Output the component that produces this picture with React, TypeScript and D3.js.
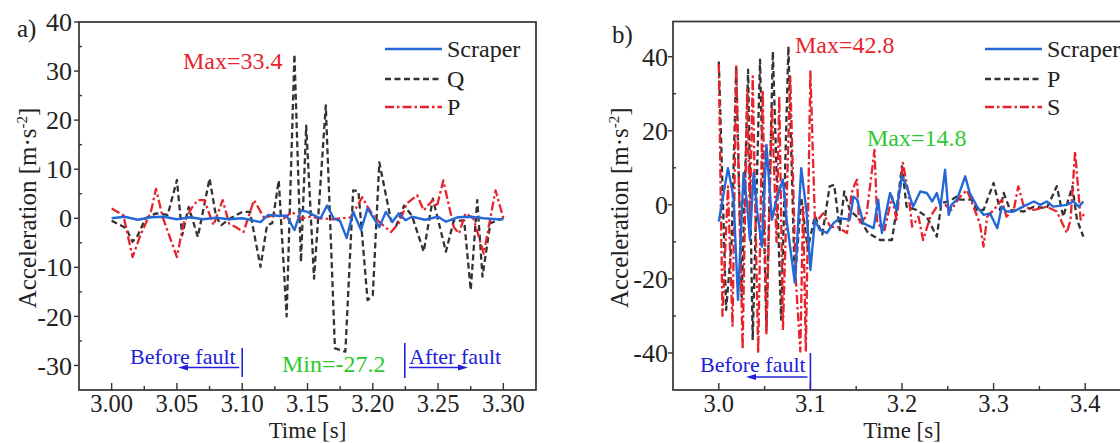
import React from 'react';
import * as d3 from 'd3';

const FONT = "'Liberation Serif', 'Times New Roman', Times, serif";
const BLUE = '#2468d8';
const BLACK = '#333333';
const RED = '#e8232b';
const GREEN = '#2ec82e';
const TEXTBLUE = '#2020dc';

// ---------- Panel a) ----------
const aScraperTime = [3.000,3.010,3.020,3.030,3.040,3.050,3.060,3.070,3.080,3.090,3.100,3.106,3.114,3.120,3.127,3.134,3.140,3.145,3.150,3.155,3.160,3.165,3.170,3.175,3.180,3.185,3.191,3.196,3.200,3.205,3.210,3.215,3.220,3.225,3.230,3.240,3.250,3.256,3.265,3.275,3.285,3.295,3.300];
const aScraper = [0,0.3,-0.3,0.2,0.3,-0.2,0.2,-0.2,0.1,-0.2,0,-0.3,-0.8,0.7,0.5,0.5,-2.4,1.6,1.3,0.6,0,2.6,0,-0.6,-4,1.3,-2.4,2,0.3,-1.8,1.3,-0.7,1,-0.4,0.3,-0.3,0.3,-0.7,0.2,0.3,0,-0.2,-0.2];

const aQTime = [3.000,3.011,3.016,3.020,3.026,3.034,3.043,3.050,3.054,3.059,3.066,3.075,3.080,3.084,3.091,3.100,3.106,3.114,3.119,3.123,3.128,3.134,3.140,3.145,3.149,3.155,3.164,3.171,3.179,3.185,3.189,3.196,3.200,3.205,3.214,3.218,3.224,3.230,3.239,3.246,3.256,3.262,3.270,3.275,3.280,3.284,3.290,3.300];
const aQ = [-0.5,-2,-4.8,-3.5,0,1,0.7,7.8,-3.5,2.3,-3.8,8.1,0.3,-1.4,0,1.3,1.3,-9.9,-1.4,-1,7.7,-20,33.4,-8.9,18.9,-12.3,23,-26.5,-27.2,5.7,5.5,-16.7,-15.7,11.4,-0.5,-1.5,2.6,0.5,-6.8,4,-6.8,-0.5,-0.5,-14.6,3.7,-11.9,-1,0];

const aPTime = [3.000,3.009,3.016,3.022,3.030,3.034,3.039,3.050,3.055,3.061,3.066,3.071,3.078,3.085,3.090,3.095,3.101,3.109,3.117,3.125,3.132,3.138,3.145,3.152,3.160,3.170,3.183,3.192,3.196,3.203,3.214,3.220,3.226,3.234,3.239,3.246,3.249,3.254,3.262,3.266,3.271,3.277,3.285,3.294,3.300];
const aP = [2,0.6,-7.9,-3.5,1.3,6,0.3,-7.9,-1.1,2,3.7,3.7,-1.4,3.7,-1.1,-1.8,-2.8,3.7,0,0.8,0,1.3,0,0.3,0,-0.2,0.2,4.3,2.3,-0.3,-2.8,-1,3,4.7,1.6,3.7,2.3,7.7,-1.8,-3.1,1,0,-7.2,5.7,0];

const aXTicks = [3.00,3.05,3.10,3.15,3.20,3.25,3.30];
const aXMinor = [3.025,3.075,3.125,3.175,3.225,3.275];
const aYTicks = [-30,-20,-10,0,10,20,30,40];
const aYMinor = [-25,-15,-5,5,15,25,35];

// ---------- Panel b) ----------
const bScraperTime = [3.000,3.010,3.016,3.021,3.027,3.031,3.034,3.038,3.042,3.047,3.052,3.058,3.063,3.070,3.074,3.083,3.090,3.096,3.100,3.105,3.110,3.118,3.125,3.132,3.143,3.147,3.151,3.158,3.169,3.174,3.178,3.187,3.194,3.200,3.205,3.212,3.220,3.227,3.233,3.238,3.242,3.247,3.251,3.254,3.260,3.269,3.274,3.282,3.289,3.296,3.304,3.309,3.314,3.322,3.329,3.336,3.344,3.351,3.358,3.365,3.380,3.387,3.393,3.398];
const bScraper = [-4.5,9.9,2.2,-25.7,8.6,0,-9.5,8.6,-2,-11.3,16.2,-4,1.4,6.8,-4,-21,9.9,-2.3,-17.6,-4,-6.7,-7.6,-5,-3.6,-4,2.2,1.4,-5,-6.3,1.4,-7.6,3.2,-1.4,7.7,5,-0.5,3.6,3.2,0.9,3.2,-0.5,9.5,-2.7,0,1.4,7.7,3.2,-0.5,-2.7,-2.3,-6.3,-0.5,-1.8,-1.8,-0.9,0,0.9,0,0.9,-0.5,0,0.9,-0.5,0.9];

const bPTime = [3.000,3.008,3.014,3.019,3.025,3.032,3.037,3.045,3.052,3.059,3.068,3.076,3.083,3.090,3.097,3.105,3.113,3.121,3.126,3.132,3.137,3.143,3.154,3.163,3.176,3.189,3.194,3.200,3.205,3.216,3.227,3.238,3.243,3.252,3.260,3.263,3.276,3.282,3.289,3.300,3.307,3.311,3.318,3.333,3.344,3.358,3.369,3.376,3.386,3.391,3.398];
const bP = [38.7,-28.4,-10,37.4,-25,36.5,-36.5,39.2,-33.8,41.4,-31,42.8,-21,2,-12,-3,-8,5,5.4,-6.8,3.6,-1.4,-4,-7.6,-9.5,-9.5,-1.4,10.4,-0.5,-1.4,-3.2,-8.6,0.5,1,2.3,1.4,1.4,-1.4,-1.4,5.9,-1.4,3.2,-1.4,-1.8,-0.5,-0.9,5,-3.2,5,-4,-8.6];

const bSTime = [3.000,3.004,3.010,3.015,3.019,3.026,3.031,3.034,3.037,3.043,3.048,3.052,3.058,3.063,3.066,3.070,3.078,3.084,3.089,3.092,3.095,3.100,3.105,3.114,3.122,3.129,3.140,3.145,3.149,3.151,3.153,3.161,3.170,3.173,3.181,3.189,3.194,3.201,3.207,3.211,3.218,3.223,3.231,3.238,3.247,3.254,3.262,3.271,3.278,3.285,3.289,3.293,3.300,3.309,3.314,3.322,3.327,3.333,3.344,3.358,3.369,3.380,3.384,3.389,3.395,3.400];
const bS = [38,-30,5,-32.9,37.4,-39,31,-5,34.7,-40,31,-35,26.6,-10,29.3,-33.8,34.7,-20,-39.6,0,-39.6,36,-5,-2.3,-6,-5.9,-7.6,3.2,5.9,6.8,-5,-3.2,14.8,-5,-6.8,2.3,-4,11.3,3.2,-5.9,-3.2,-9.5,-3.2,-0.5,0,-1.4,1.8,4,-0.5,-5,-11.3,-3.2,-1.4,1.4,-3.2,-1.4,5,-0.5,-1.4,-0.5,-1.8,-7.6,-4,14.4,-4,-2];

const bXTicks = [3.0,3.1,3.2,3.3,3.4];
const bXMinor = [3.05,3.15,3.25,3.35];
const bYTicks = [-40,-20,0,20,40];
const bYMinor = [-30,-10,10,30];

const aLegend = ['Scraper', 'Q', 'P'];
const bLegend = ['Scraper', 'P', 'S'];

type Kind = 'solid' | 'dash' | 'dashdot';
const styleOf = (k: Kind) =>
  k === 'solid'
    ? { stroke: BLUE, strokeWidth: 2.4, strokeDasharray: undefined as string | undefined }
    : k === 'dash'
    ? { stroke: BLACK, strokeWidth: 2.3, strokeDasharray: '6,3.5' }
    : { stroke: RED, strokeWidth: 2.3, strokeDasharray: '9,3,2.5,3' };

function pts(t: number[], v: number[]): [number, number][] {
  return t.map((d, i) => [d, v[i]]);
}

type PanelProps = {
  x: d3.ScaleLinear<number, number>;
  y: d3.ScaleLinear<number, number>;
  series: { t: number[]; v: number[]; kind: Kind }[];
  xTicks: number[];
  xMinor: number[];
  yTicks: number[];
  yMinor: number[];
  xFmt: (d: number) => string;
  clipId: string;
  legend: string[];
  legendX: number;
  labelX: number;
  tickLabelX: number;
  panelLabel: string;
  panelLabelX: number;
  panelLabelY: number;
};

function Panel(p: PanelProps) {
  const [x0, x1] = p.x.range();
  const [y0, y1] = p.y.range();
  const top = Math.min(y0, y1);
  const bottom = Math.max(y0, y1);
  const line = d3
    .line<[number, number]>()
    .x((d) => p.x(d[0]))
    .y((d) => p.y(d[1]));
  const legendRows = [49, 79, 107];
  const kinds: Kind[] = ['solid', 'dash', 'dashdot'];
  const midY = (top + bottom) / 2 + 2;
  return (
    <g>
      <defs>
        <clipPath id={p.clipId}>
          <rect x={x0} y={top} width={x1 - x0} height={bottom - top} />
        </clipPath>
      </defs>
      <g clipPath={`url(#${p.clipId})`}>
        {p.series.map((s, i) => {
          const st = styleOf(s.kind);
          return (
            <path
              key={i}
              d={line(pts(s.t, s.v)) || ''}
              fill="none"
              stroke={st.stroke}
              strokeWidth={st.strokeWidth}
              strokeDasharray={st.strokeDasharray}
              strokeLinejoin="round"
            />
          );
        })}
      </g>
      <rect x={x0} y={top} width={x1 - x0} height={bottom - top} fill="none" stroke="#333" strokeWidth={1.7} />
      {p.xTicks.map((t) => (
        <g key={'xt' + t}>
          <line x1={p.x(t)} x2={p.x(t)} y1={bottom} y2={bottom - 7} stroke="#333" strokeWidth={1.4} />
          <text x={p.x(t)} y={bottom + 22} textAnchor="middle" fontFamily={FONT} fontSize={24.5} fill="#222">
            {p.xFmt(t)}
          </text>
        </g>
      ))}
      {p.xMinor.map((t) => (
        <line key={'xm' + t} x1={p.x(t)} x2={p.x(t)} y1={bottom} y2={bottom - 4} stroke="#333" strokeWidth={1.4} />
      ))}
      {p.yTicks.map((v) => (
        <g key={'yt' + v}>
          <line x1={x0 - 5} x2={x0} y1={p.y(v)} y2={p.y(v)} stroke="#333" strokeWidth={1.4} />
          <text x={p.tickLabelX} y={p.y(v)} dy="0.35em" textAnchor="end" fontFamily={FONT} fontSize={26} fill="#222">
            {v}
          </text>
        </g>
      ))}
      {p.yMinor.map((v) => (
        <line key={'ym' + v} x1={x0} x2={x0 + 3} y1={p.y(v)} y2={p.y(v)} stroke="#333" strokeWidth={1.4} />
      ))}
      <text x={(x0 + x1) / 2} y={437.5} textAnchor="middle" fontFamily={FONT} fontSize={23} fill="#222">
        Time [s]
      </text>
      <text
        transform={`translate(${p.labelX},${midY}) rotate(-90)`}
        textAnchor="middle"
        fontFamily={FONT}
        fontSize={25}
        fill="#222"
      >
        Acceleration [m·s<tspan dy={-9} fontSize={15}>-2</tspan>
        <tspan dy={9}>]</tspan>
      </text>
      <text x={p.panelLabelX} y={p.panelLabelY} fontFamily={FONT} fontSize={25} fill="#222">
        {p.panelLabel}
      </text>
      {p.legend.map((name, i) => {
        const st = styleOf(kinds[i]);
        const ly = legendRows[i];
        return (
          <g key={'lg' + name}>
            <line
              x1={p.legendX}
              x2={p.legendX + 57}
              y1={ly}
              y2={ly}
              stroke={st.stroke}
              strokeWidth={st.strokeWidth}
              strokeDasharray={st.strokeDasharray}
            />
            <text x={p.legendX + 62} y={ly + 8} fontFamily={FONT} fontSize={24} fill="#222">
              {name}
            </text>
          </g>
        );
      })}
    </g>
  );
}

export default function App() {
  const W = 1120;
  const H = 443;
  const xa = d3.scaleLinear().domain([2.975, 3.325]).range([79, 536]);
  const ya = d3.scaleLinear().domain([-35, 40]).range([390, 22]);
  const xb = d3.scaleLinear().domain([2.95, 3.45]).range([673, 1131]);
  const yb = d3.scaleLinear().domain([-50, 49.5]).range([390, 21.5]);

  const fmtA = d3.format('.2f');
  const fmtB = d3.format('.1f');

  const beforeAX = xa(3.1);
  const afterAX = xa(3.2245);
  const beforeBX = xb(3.1);

  return (
    <svg
      width={W}
      height={H}
      viewBox={`0 0 ${W} ${H}`}
      style={{ position: 'absolute', left: 0, top: 0, background: '#fff' }}
    >
      <rect x={0} y={0} width={W} height={H} fill="#fff" />
      <Panel
        x={xa}
        y={ya}
        series={[
          { t: aQTime, v: aQ, kind: 'dash' },
          { t: aPTime, v: aP, kind: 'dashdot' },
          { t: aScraperTime, v: aScraper, kind: 'solid' },
        ]}
        xTicks={aXTicks}
        xMinor={aXMinor}
        yTicks={aYTicks}
        yMinor={aYMinor}
        xFmt={fmtA}
        clipId="clipA"
        legend={aLegend}
        legendX={385}
        labelX={36}
        tickLabelX={72}
        panelLabel="a)"
        panelLabelX={17}
        panelLabelY={37}
      />
      <Panel
        x={xb}
        y={yb}
        series={[
          { t: bPTime, v: bP, kind: 'dash' },
          { t: bSTime, v: bS, kind: 'dashdot' },
          { t: bScraperTime, v: bScraper, kind: 'solid' },
        ]}
        xTicks={bXTicks}
        xMinor={bXMinor}
        yTicks={bYTicks}
        yMinor={bYMinor}
        xFmt={fmtB}
        clipId="clipB"
        legend={bLegend}
        legendX={985}
        labelX={628}
        tickLabelX={668}
        panelLabel="b)"
        panelLabelX={612}
        panelLabelY={43}
      />

      <text x={183} y={69} fontFamily={FONT} fontSize={24} fill={RED}>Max=33.4</text>
      <text x={282} y={372} fontFamily={FONT} fontSize={24} fill={GREEN}>Min=-27.2</text>
      <text x={130} y={364} fontFamily={FONT} fontSize={22} fill={TEXTBLUE}>Before fault</text>
      <line x1={186} x2={beforeAX - 3} y1={367.5} y2={367.5} stroke={TEXTBLUE} strokeWidth={1.4} />
      <polygon points={`178,367.5 188,364.5 188,370.5`} fill={TEXTBLUE} />
      <line x1={beforeAX} x2={beforeAX} y1={348} y2={377} stroke={TEXTBLUE} strokeWidth={1.6} />
      <line x1={afterAX} x2={afterAX} y1={343} y2={378} stroke={TEXTBLUE} strokeWidth={1.6} />
      <text x={409} y={364} fontFamily={FONT} fontSize={22} fill={TEXTBLUE}>After fault</text>
      <line x1={409} x2={460} y1={367.5} y2={367.5} stroke={TEXTBLUE} strokeWidth={1.4} />
      <polygon points={`468,367.5 458,364.5 458,370.5`} fill={TEXTBLUE} />

      <text x={795} y={53} fontFamily={FONT} fontSize={24} fill={RED}>Max=42.8</text>
      <text x={867} y={146} fontFamily={FONT} fontSize={24} fill={GREEN}>Max=14.8</text>
      <text x={700} y={372} fontFamily={FONT} fontSize={22} fill={TEXTBLUE}>Before fault</text>
      <line x1={754} x2={beforeBX - 3} y1={377} y2={377} stroke={TEXTBLUE} strokeWidth={1.4} />
      <polygon points={`746,377 756,374 756,380`} fill={TEXTBLUE} />
      <line x1={beforeBX} x2={beforeBX} y1={353} y2={390} stroke={TEXTBLUE} strokeWidth={1.6} />
    </svg>
  );
}
